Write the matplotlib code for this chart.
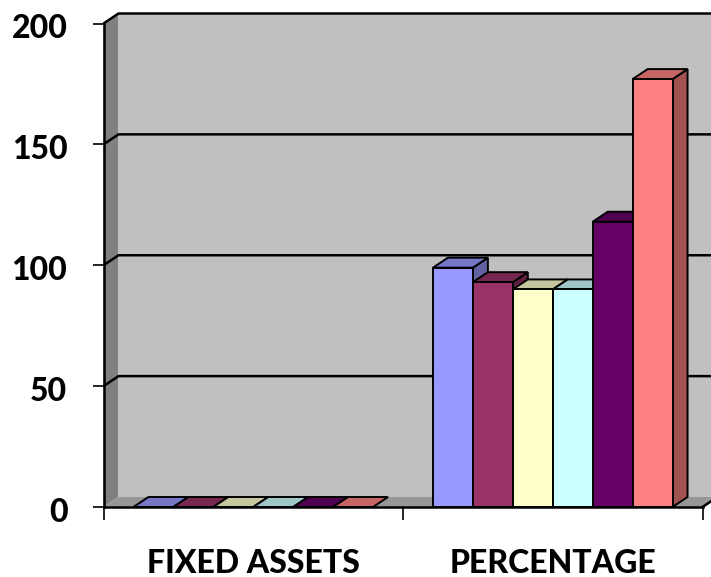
import matplotlib
matplotlib.use("Agg")
from matplotlib import pyplot as plt
from matplotlib.patches import Polygon, Rectangle
import matplotlib.transforms as mtransforms

# chart data
categories = ["FIXED ASSETS", "PERCENTAGE"]
series_colors = ["#9999FF", "#993366", "#FFFFCC", "#CCFFFF", "#660066", "#FF8080"]
fixed_assets = [0, 0, 0, 0, 0, 0]
percentage = [99, 93, 90, 90, 118, 177]
y_ticks = [0, 50, 100, 150, 200]

values = [fixed_assets, percentage]

# 3d look
DEPTH_PX = (15, 10)
GAP = 0.1
TOP_SHADE = 0.78
SIDE_SHADE = 0.64
EDGE_W = 1.4
LINE_W = 1.8

plt.rcParams['font.family'] = ['Lato', 'DejaVu Sans']

W, H = 711, 577
fig = plt.figure(figsize=(W / 100, H / 100), dpi=100)
fig.patch.set_facecolor('white')
ax = fig.add_axes([103.5 / W, (H - 507) / H, 599 / W, 483.5 / H])
ax.set_xlim(0, len(categories))
ax.set_ylim(0, 200)
ax.patch.set_visible(False)

# convert the pixel depth offset into data units
bbox = ax.get_window_extent()
ddx = DEPTH_PX[0] / bbox.width * len(categories)
ddy = DEPTH_PX[1] / bbox.height * 200


def shade(color, f):
    r, g, b = matplotlib.colors.to_rgb(color)
    return (r * f, g * f, b * f)


def poly(pts, fc, z, ec='none', lw=0):
    ax.add_patch(Polygon(pts, closed=True, facecolor=fc, edgecolor=ec,
                         linewidth=lw, zorder=z, clip_on=False))


ncat = len(categories)
top = 200
# walls and floor
poly([(ddx, ddy), (ncat + ddx, ddy), (ncat + ddx, top + ddy), (ddx, top + ddy)], '#C0C0C0', 1)
poly([(0, 0), (ddx, ddy), (ddx, top + ddy), (0, top)], '#808080', 1.1)
poly([(0, 0), (ncat, 0), (ncat + ddx, ddy), (ddx, ddy)], '#979797', 1.2)

# gridlines on side and back walls
for v in y_ticks[1:-1]:
    ax.plot([0, ddx, ncat + ddx], [v, v + ddy, v + ddy], color='black', lw=LINE_W,
            zorder=2, clip_on=False, solid_capstyle='butt')
ax.plot([0, ddx, ncat + ddx], [top, top + ddy, top + ddy], color='black', lw=LINE_W,
        zorder=2, clip_on=False, solid_capstyle='butt')
ax.plot([ncat, ncat + ddx], [0, ddy], color='black', lw=LINE_W, zorder=2, clip_on=False)

# bars, painted left to right so each front hides the previous side
bar_w = (1 - 2 * GAP) / len(series_colors)
for ci, vals in enumerate(values):
    for j, (v, c) in enumerate(zip(vals, series_colors)):
        x0 = ci + GAP + j * bar_w
        x1 = x0 + bar_w
        z = 3 + ci * 0.1 + j * 0.01
        if v > 0:
            poly([(x1, 0), (x1 + ddx, ddy), (x1 + ddx, v + ddy), (x1, v)],
                 shade(c, SIDE_SHADE), z, 'black', EDGE_W)
        poly([(x0, v), (x1, v), (x1 + ddx, v + ddy), (x0 + ddx, v + ddy)],
             shade(c, TOP_SHADE), z + 0.001, 'black', EDGE_W)
        if v > 0:
            ax.add_patch(Rectangle((x0, 0), bar_w, v, facecolor=c, edgecolor='black',
                                   linewidth=EDGE_W, zorder=z + 0.002, clip_on=False))

# axes
for s in ['top', 'right']:
    ax.spines[s].set_visible(False)
for s in ['left', 'bottom']:
    ax.spines[s].set_linewidth(LINE_W)
    ax.spines[s].set_zorder(5)

ax.set_yticks(y_ticks)
ax.set_yticklabels([str(t) for t in y_ticks], fontsize=23, fontweight='black')
ax.tick_params(axis='y', direction='out', length=8, width=1.2, pad=18)
offset = mtransforms.ScaledTranslation(0, -3 / 100, fig.dpi_scale_trans)
for lbl in ax.get_yticklabels():
    lbl.set_transform(lbl.get_transform() + offset)

ax.set_xticks(range(ncat + 1))
ax.set_xticklabels([])
ax.tick_params(axis='x', which='major', direction='out', length=9.5, width=1.2)
ax.set_xticks([i + 0.5 for i in range(ncat)], minor=True)
ax.set_xticklabels(categories, minor=True, fontsize=23, fontweight='black')
ax.tick_params(axis='x', which='minor', length=0, pad=30)

fig.savefig('out.png', dpi=100, facecolor='white')
